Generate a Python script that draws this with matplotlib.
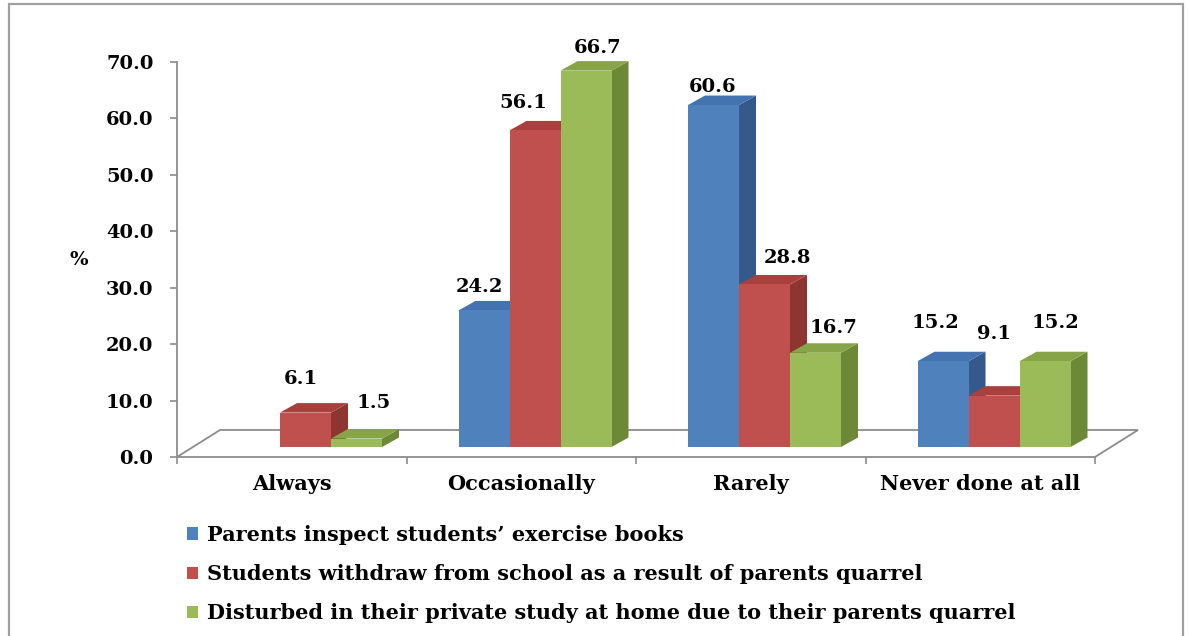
import matplotlib
matplotlib.use("Agg")
import matplotlib.pyplot as plt
from matplotlib.patches import Polygon, Rectangle, Patch

# ------------------------------------------------------------
# Data
# ------------------------------------------------------------
categories = ["Always", "Occasionally", "Rarely", "Never done at all"]
series_names = [
    "Parents inspect students\u2019 exercise books",
    "Students withdraw from school as a result of parents quarrel",
    "Disturbed in their private study at home due to their parents quarrel",
]
inspect_books = [0.0, 24.2, 60.6, 15.2]
withdraw_school = [6.1, 56.1, 28.8, 9.1]
disturbed_study = [1.5, 66.7, 16.7, 15.2]
yticks = [0, 10, 20, 30, 40, 50, 60, 70]

series = [inspect_books, withdraw_school, disturbed_study]

# front / side / top shades for each series
front_cols = ["#4F81BD", "#C0504D", "#9BBB59"]
side_cols = ["#35598A", "#8E3431", "#6B8936"]
top_cols = ["#4373B0", "#A9403D", "#87A548"]

# label nudges (pixels) from the front-top centre of each bar
label_nudge = [
    [None, (-5, 34), (17, 36)],
    [(-5, 23), (-12, 27), (12, 23)],
    [(-1, 18), (23, 26), (18, 25)],
    [(-8, 38), (0, 62), (10, 38)],
]

plt.rcParams["font.family"] = ["DejaVu Serif"]
plt.rcParams["font.weight"] = "bold"
FS = 14

W, H = 1188, 636
fig = plt.figure(figsize=(W / 100, H / 100), dpi=100)
fig.patch.set_facecolor("white")

# outer frame
fig.patches.append(Rectangle((9 / W, -0.01), (1183 - 9) / W, (H - 4) / H + 0.01,
                             transform=fig.transFigure, fill=False,
                             edgecolor="#A0A0A0", linewidth=1.6))

ax = fig.add_axes([177 / W, 179 / H, 918 / W, 395 / H])
ax.set_xlim(0, 4)
ax.set_ylim(0, 70)
ax.patch.set_alpha(0)

ux = 4 / 918   # data units per pixel, x
uy = 70 / 395  # data units per pixel, y

# oblique offsets
ddx, ddy = 17 * ux, 9.5 * uy
fdx, fdy = 43 * ux, 27 * uy
base = 10 * uy
bar_w = 51 * ux
grp_off = 52 * ux

# floor
floor = Polygon([(0, 0), (4, 0), (4 + fdx, fdy), (fdx, fdy)], closed=True,
                facecolor="white", edgecolor="#8C8C8C", linewidth=1.3,
                clip_on=False, zorder=1)
ax.add_patch(floor)

# 3D-looking bars, drawn left to right so later fronts hide earlier sides
for ci in range(len(categories)):
    for si, vals in enumerate(series):
        v = vals[ci]
        x0 = ci + grp_off + si * bar_w
        x1 = x0 + bar_w
        b, t = base, base + v
        side = Polygon([(x1, b), (x1 + ddx, b + ddy), (x1 + ddx, t + ddy), (x1, t)],
                       facecolor=side_cols[si], edgecolor="none", clip_on=False, zorder=2)
        top = Polygon([(x0, t), (x1, t), (x1 + ddx, t + ddy), (x0 + ddx, t + ddy)],
                      facecolor=top_cols[si], edgecolor="none", clip_on=False, zorder=2)
        front = Rectangle((x0, b), bar_w, v, facecolor=front_cols[si],
                          edgecolor="none", clip_on=False, zorder=2)
        if v > 0:
            ax.add_patch(side)
            ax.add_patch(top)
            ax.add_patch(front)
        nudge = label_nudge[ci][si]
        if nudge is not None:
            ax.annotate(f"{v:.1f}", xy=((x0 + x1) / 2, t), xytext=nudge,
                        textcoords="offset pixels", ha="center", va="center",
                        fontsize=FS, fontweight="bold", annotation_clip=False,
                        zorder=5)

# axes styling
for s in ["top", "right", "bottom"]:
    ax.spines[s].set_visible(False)
ax.spines["left"].set_color("#8C8C8C")
ax.spines["left"].set_linewidth(1.3)

ax.set_yticks(yticks)
ax.set_yticklabels([f"{y:.1f}" for y in yticks])
ax.tick_params(axis="y", length=5, width=1.2, color="#8C8C8C", pad=12,
               labelsize=FS)

ax.set_xticks([0, 1, 2, 3, 4])
ax.set_xticklabels([])
ax.set_xticks([i + 0.5 for i in range(len(categories))], minor=True)
ax.set_xticklabels(categories, minor=True)
ax.tick_params(axis="x", which="major", length=5, width=1.2, color="#8C8C8C")
ax.tick_params(axis="x", which="minor", length=0, pad=12, labelsize=15)

fig.text(79 / W, 1 - 260 / H, "%", ha="center", va="center",
         fontsize=FS, fontweight="bold")

handles = [Patch(facecolor=c, edgecolor="none") for c in front_cols]
fig.legend(handles, series_names, loc="upper left",
           bbox_to_anchor=(187 / W, 1 - 525 / H), frameon=False,
           fontsize=15, handlelength=0.55, handleheight=0.55, handletextpad=0.4,
           labelspacing=0.92, borderaxespad=0, borderpad=0)

fig.savefig("out.png", dpi=100)
